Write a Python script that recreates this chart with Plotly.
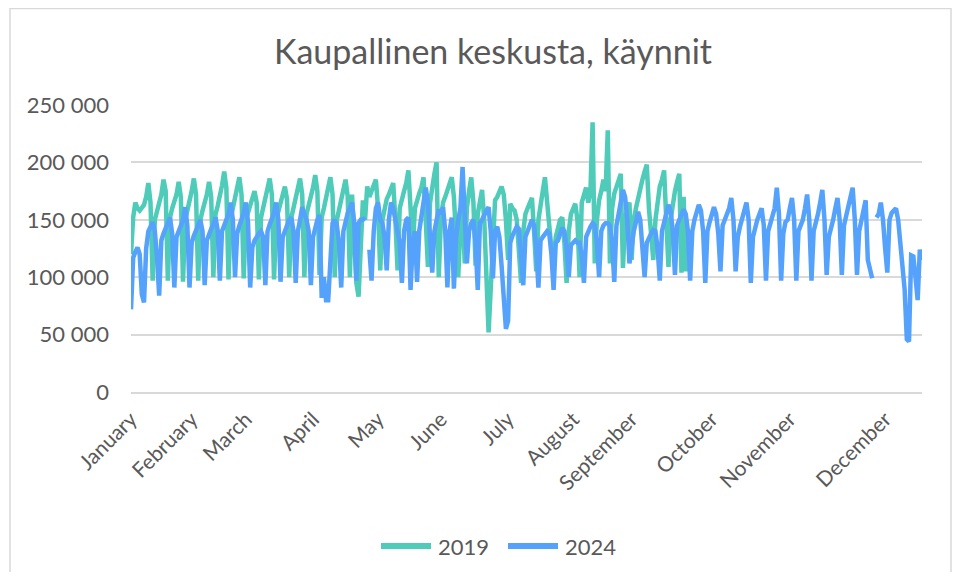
import plotly.graph_objects as go

# daily visits in thousands
# 2019: starts on the chart's first day, ends mid September
visits_2019 = [
    120, 152, 165, 160,
    158, 160, 163, 170, 182, 165, 97,
    150, 158, 165, 172, 185, 175, 97,
    152, 160, 166, 172, 183, 170, 96,
    150, 158, 165, 175, 186, 172, 97,
    150, 158, 164, 172, 183, 170, 100,
    155, 162, 170, 180, 192, 178, 98,
    152, 160, 168, 176, 187, 172, 99,
    150, 156, 162, 168, 175, 165, 98,
    152, 160, 168, 176, 186, 172, 98,
    150, 158, 163, 170, 179, 168, 100,
    152, 160, 168, 176, 186, 172, 100,
    155, 162, 170, 178, 189, 175, 102,
    152, 160, 168, 176, 187, 172, 100,
    150, 158, 166, 175, 185, 170, 100,
    172, 140, 95, 83, 130, 167, 150,
    179, 170, 175, 180, 185, 160, 106,
    150, 160, 168, 172, 178, 182, 150,
    106, 160, 170, 175, 182, 193, 160,
    124, 160, 168, 173, 178, 187, 150,
    109, 165, 180, 190, 200, 100, 150,
    165, 170, 175, 180, 187, 170, 130,
    100, 145, 160, 112, 160, 175, 187,
    165, 110, 155, 165, 176, 150, 100,
    52, 90, 140, 167, 170, 175, 179, 172,
    150, 115, 164, 160, 158, 150, 120,
    95, 140, 155, 160, 165, 169, 140,
    105, 150, 165, 175, 187, 160, 145,
    125, 112, 135, 145, 150, 152, 130,
    95, 140, 155, 160, 164, 150, 100,
    165, 172, 178, 165, 175, 235, 112,
    150, 167, 175, 185, 175, 228, 112,
    160, 173, 178, 185, 190, 108, 150,
    160, 165, 115, 150, 160, 170, 175,
    185, 192, 198, 160, 130, 115, 150,
    165, 179, 185, 193, 150, 109, 150,
    165, 175, 183, 190, 104, 170, 105,
]

# 2024: full year, one row per week Mon..Sun (None = missing day)
visits_2024 = [
    72, 117, 122, 126, 120, 85, 78,
    125, 140, 144, 148, 140, 118, 84,
    132, 138, 142, 146, 152, 138, 91,
    135, 140, 145, 150, 161, 145, 91,
    130, 136, 140, 144, 150, 140, 93,
    132, 138, 142, 146, 152, 141, 97,
    140, 146, 150, 155, 165, 150, 100,
    138, 145, 150, 156, 165, 148, 91,
    126, 132, 136, 138, 140, 135, 93,
    140, 146, 150, 156, 165, 150, 96,
    135, 140, 145, 150, 152, 140, 95,
    140, 150, 161, 155, 150, 140, 93,
    135, 145, 150, 154, 82, 100, 80,
    80, 110, 147, 150, 145, 130, 91,
    140, 150, 156, 160, 165, 147, 97,
    147, 150, 150, 152, None, 124, 97,
    140, 160, 165, 150, 147, 135, 106,
    150, 165, 160, 150, 140, 130, 95,
    140, 150, 152, 89, 130, 140, 96,
    140, 152, 165, 178, 165, 130, 104,
    140, 150, 159, 155, 161, 140, 91,
    140, 152, 90, 135, 150, 160, 196,
    160, 112, 140, 147, 150, 130, 89,
    147, 150, 155, 158, 161, 140, 99,
    140, 144, 135, 110, 75, 55, 62,
    130, 136, 140, 144, 142, 120, 93,
    135, 140, 145, 150, 145, 125, 91,
    132, 135, 138, 140, 138, 120, 89,
    130, 132, 138, 143, 140, 125, 100,
    128, 130, 132, 130, 130, 118, 95,
    135, 141, 144, 147, 145, 130, 100,
    140, 145, 147, 147, 145, 130, 96,
    145, 155, 165, 176, 170, 150, 112,
    130, 140, 148, 157, 150, 130, 100,
    130, 135, 138, 141, 140, 125, 97,
    140, 148, 155, 163, 158, 140, 102,
    145, 150, 156, 159, 155, 140, 97,
    140, 150, 156, 163, 158, 140, 95,
    140, 148, 155, 161, 155, 138, 105,
    145, 150, 154, 160, 169, 150, 105,
    135, 144, 150, 158, 165, 150, 95,
    135, 144, 150, 155, 160, 145, 97,
    140, 148, 152, 160, 178, 155, 97,
    138, 148, 150, 160, 169, 150, 97,
    140, 145, 150, 160, 172, 150, 97,
    140, 147, 155, 165, 176, 150, 102,
    135, 141, 150, 160, 169, 150, 102,
    145, 154, 160, 170, 178, 150, 102,
    140, 150, 158, 167, 115, 108, 99,
    None, 152, 155, 165, 150, 125, 104,
    150, 156, 158, 160, 150, 130, 106,
    89, 46, 44, 119, 118, 100, 80,
    124, 115,
]

month_labels = ["January", "February", "March", "April", "May", "June",
                "July", "August", "September", "October", "November", "December"]
month_label_days = [0, 28, 53, 84, 114, 143, 174, 204, 231, 268, 304, 348]

y_ticks = [0, 50000, 100000, 150000, 200000, 250000]
y_tick_labels = ["0", "50 000", "100 000", "150 000", "200 000", "250 000"]

series_names = ["2019", "2024"]
series_colors = ["#4ecbb9", "#55a2fc"]

TEXT = "#595959"
GRID = "#d9d9d9"
FONT = "Lato"

# the page body adds an 8px margin, so the figure is 16px smaller than the window
OFF = 8
W, H = 961 - 2 * OFF, 580 - 2 * OFF
# plot area in window pixels: x 131..922, y 105..392
L, R, T, B = 131 - OFF, 922 - OFF, 105 - OFF, 392 - OFF


def px(x):
    return (x - OFF - L) / (R - L)


def py(y):
    return (B - (y - OFF)) / (B - T)


def to_visits(values):
    return [None if v is None else v * 1000 for v in values]


fig = go.Figure()
for name, values, color in zip(series_names, [visits_2019, visits_2024], series_colors):
    fig.add_trace(go.Scatter(
        x=list(range(len(values))), y=to_visits(values),
        mode="lines", name=name, showlegend=False,
        line=dict(color=color, width=4.5)))

# legend drawn by hand so the swatches match the original length
shapes = [dict(type="rect", xref="paper", yref="paper",
               x0=px(10), x1=px(951), y0=py(579), y1=py(8.5),
               line=dict(color=GRID, width=1.5), fillcolor="rgba(0,0,0,0)", layer="below")]
annotations = []
for name, color, x0 in zip(series_names, series_colors, [381, 508]):
    shapes.append(dict(type="line", xref="paper", yref="paper",
                       x0=px(x0), x1=px(x0 + 50), y0=py(546), y1=py(546),
                       line=dict(color=color, width=6)))
    annotations.append(dict(text=name, xref="paper", yref="paper",
                            x=px(x0 + 55), y=py(546), xanchor="left", yanchor="middle",
                            showarrow=False, font=dict(family=FONT, size=22, color=TEXT)))

fig.update_layout(
    width=W, height=H,
    margin=dict(l=L, r=W - R, t=T, b=H - B, autoexpand=False),
    paper_bgcolor="white", plot_bgcolor="white",
    title=dict(text="Kaupallinen keskusta, käynnit", x=(493 - OFF) / W, xanchor="center",
               y=1 - (52 - OFF) / H, yanchor="middle",
               font=dict(family=FONT, size=34, color=TEXT)),
    showlegend=False,
    shapes=shapes,
    annotations=annotations,
)
fig.update_xaxes(range=[0, 365], tickvals=month_label_days, ticktext=month_labels,
                 tickangle=-45, showgrid=False, zeroline=False, ticks="",
                 showline=True, linecolor=GRID, linewidth=1.5, automargin=False,
                 ticklabelstandoff=5,
                 tickfont=dict(family=FONT, size=21, color=TEXT))
fig.update_yaxes(range=[0, 250000], tickvals=y_ticks, ticktext=y_tick_labels,
                 showgrid=True, gridcolor=GRID, gridwidth=1.5, zeroline=False, ticks="",
                 ticklabelstandoff=21, automargin=False,
                 tickfont=dict(family=FONT, size=22, color=TEXT))

fig.write_html("out.html")
